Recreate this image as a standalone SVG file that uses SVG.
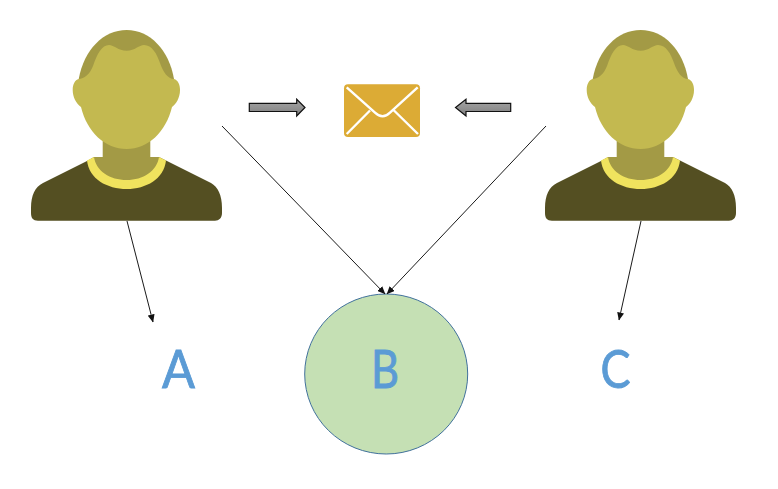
<svg xmlns="http://www.w3.org/2000/svg" width="778" height="489" viewBox="0 0 778 489">
<style>
.conn{fill:none;stroke:#1a1a1a;stroke-width:1;marker-end:url(#tip)}
.block{fill:url(#grey);stroke:#111;stroke-width:1.2}
.label{font-family:"Lato","Open Sans",sans-serif;font-size:53px;fill:#5b9bd5;stroke:#5b9bd5;stroke-width:0.9;text-anchor:middle}
</style>
<defs>
<marker id="tip" markerUnits="userSpaceOnUse" markerWidth="8" markerHeight="7" refX="7.500" refY="3.500" orient="auto"><path d="M0 0L8 3.500L0 7z" fill="#111"/></marker>
<linearGradient id="grey" x1="0" y1="0" x2="0" y2="1"><stop offset="0" stop-color="#a6a6a6"/><stop offset="1" stop-color="#7f7f7f"/></linearGradient>
<g id="person">
<path d="M31 208C31 195 35 187 43 183L88 160.500L94 157H159L166 160.500L211 183C218 187 222 195 222 208V213C222 218 219 220.700 215 220.700H38C33 220.700 31 218 31 213z" fill="#544f22"/>
<path d="M87 160.500L94 157H159L166 160.500C164 179 146 189 126.700 189C107 189 89 179 87 160.500z" fill="#f0e35e"/>
<path d="M94 157H102.700V140H150.300V157H159C157 171 143 180 126.700 180C110 180 96 171 94 157z" fill="#a39a45"/>
<path d="M78.700 79C84 50 103 30 126.700 30C150 30 169 50 174 79L165 100H88z" fill="#a39a45"/>
<path d="M78.700 79C84 79 90 74 93 66C97 54 102 45 109 45C114 45 118 50.700 126.700 50.700C135 50.700 139 45 144 45C152 45 157 54 160 63C163 72 168 79 174 79C178 80 180 85 180 90C180 98 176 104 172 107C166 132 148 149 126.700 149C105 149 87 132 81 107C76 103 72.700 97 72.700 90C72.700 84 75 80 78.700 79z" fill="#c3b950"/>
</g>
</defs>
<g id="person-left"><use href="#person"/></g>
<g id="person-right"><use href="#person" x="514"/></g>
<g id="envelope">
<rect x="344" y="84.300" width="76" height="52.700" rx="4" fill="#dcab35"/>
<path d="M346.700 87.300L375 112.700Q382.700 120 390 112.700L417.700 87.300M346.700 134L370 110.500M418 134L394 110.500" fill="none" stroke="#fff" stroke-width="2.400"/>
</g>
<g id="node-b">
<ellipse cx="386.200" cy="374" rx="81.500" ry="80" fill="#c5e0b4" stroke="#41719c" stroke-width="1"/>
<text class="label" x="385" y="388" textLength="28" lengthAdjust="spacingAndGlyphs">B</text>
</g>
<g id="label-a"><text class="label" x="178.500" y="388" textLength="33" lengthAdjust="spacingAndGlyphs">A</text></g>
<g id="label-c"><text class="label" x="615.500" y="388" textLength="30" lengthAdjust="spacingAndGlyphs">C</text></g>
<g id="connectors">
<path class="conn" d="M222 126L385 294"/>
<path class="conn" d="M546 126L387 294"/>
<path class="conn" d="M127 221L153 322"/>
<path class="conn" d="M641 221L619 320"/>
<path class="block" d="M249.300 103.300H296.700V99.300L305 107.500L296.700 116V111.500H249.300z"/>
<path class="block" d="M510.700 103.300H466V99.300L455.500 107.500L466 116V111.500H510.700z"/>
</g>
</svg>
